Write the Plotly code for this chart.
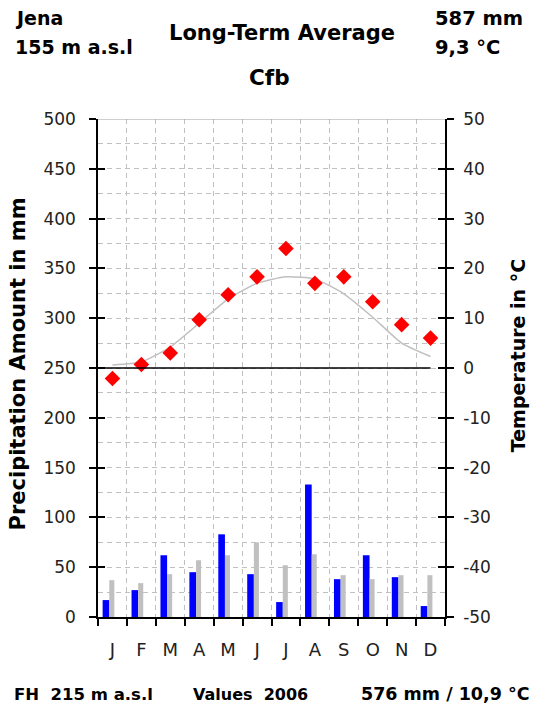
import plotly.graph_objects as go

months = ['J', 'F', 'M', 'A', 'M', 'J', 'J', 'A', 'S', 'O', 'N', 'D']
month_idx = list(range(12))
precip_2006 = [17, 27, 62, 45, 83, 43, 15, 133, 38, 62, 40, 11]
precip_avg = [37, 34, 43, 57, 62, 75, 52, 63, 42, 38, 42, 42]
temp_2006 = [-2.1, 0.7, 3.0, 9.7, 14.7, 18.3, 24.0, 17.0, 18.3, 13.3, 8.7, 6.0]
temp_avg = [0.6, 1.2, 4.2, 9.0, 13.9, 17.0, 18.3, 17.9, 14.9, 10.2, 5.0, 2.3]
precip_ticks = list(range(0, 501, 50))
temp_ticks = list(range(-50, 51, 10))
temp_ticktext = [str(t) for t in temp_ticks]

W, H = 539, 715
L, R, T, B = 98.3, 445.5, 119.0, 617.5
FONT = "DejaVu Sans"
GRID = "#c0c0c0"


def px(x):
    return (x - L) / (R - L)


def py(y):
    return (B - y) / (B - T)


fig = go.Figure()
fig.add_trace(go.Bar(x=month_idx, y=precip_2006, marker=dict(color="#0000ff", line=dict(width=0)),
                     offset=-0.34, width=0.23, xaxis="x", yaxis="y"))
fig.add_trace(go.Bar(x=month_idx, y=precip_avg, marker=dict(color="#c0c0c0", line=dict(width=0)),
                     offset=-0.11, width=0.175, xaxis="x", yaxis="y"))
fig.add_trace(go.Scatter(x=month_idx, y=temp_avg, mode="lines",
                         line=dict(color="#c0c0c0", width=1.5, shape="spline", smoothing=0.5),
                         xaxis="x", yaxis="y2"))
fig.add_trace(go.Scatter(x=month_idx, y=temp_2006, mode="markers",
                         marker=dict(symbol="diamond", size=12, color="#ff0000", line=dict(width=0)),
                         xaxis="x", yaxis="y2"))

tickfont = dict(family=FONT, size=17, color="#222")

fig.update_layout(
    width=W, height=H, autosize=False,
    margin=dict(l=L, r=W - R, t=T, b=H - B, pad=0),
    paper_bgcolor="white", plot_bgcolor="white",
    showlegend=False, barmode="overlay",
    xaxis=dict(range=[-0.5, 11.5], tickmode="array", tickvals=month_idx, ticktext=months,
               ticks="", showgrid=False, zeroline=False, showline=True, linecolor="black", linewidth=1.5,
               tickfont=dict(family=FONT, size=18, color="#222"), ticklabelstandoff=16,
               minor=dict(tickmode="array", tickvals=[i - 0.5 for i in range(13)], ticks="outside",
                          ticklen=7, tickcolor="black", tickwidth=1.5,
                          showgrid=True, gridcolor=GRID, griddash="5px,4px", gridwidth=1),
               fixedrange=True),
    yaxis=dict(range=[0, 500], tickmode="array", tickvals=precip_ticks, ticks="outside", ticklen=7,
               tickwidth=1.5, tickcolor="black", showline=True, linecolor="black", linewidth=1.5,
               showgrid=True, gridcolor=GRID, griddash="5px,4px", gridwidth=1, zeroline=False,
               tickfont=tickfont, ticklabelstandoff=10,
               minor=dict(dtick=25, tick0=0, showgrid=True, gridcolor=GRID, griddash="5px,4px", ticks=""),
               fixedrange=True),
    yaxis2=dict(range=[-50, 50], overlaying="y", side="right", anchor="x", tickmode="array",
                tickvals=temp_ticks, ticktext=temp_ticktext, ticks="outside", ticklen=7, tickwidth=1.5,
                tickcolor="black",
                showline=True, linecolor="black", linewidth=1.5, showgrid=False, zeroline=False,
                tickfont=tickfont, ticklabelstandoff=6, fixedrange=True),
    yaxis3=dict(range=[0, 500], overlaying="y", side="left", anchor="x", tickmode="array",
                tickvals=precip_ticks, ticks="inside", ticklen=7, tickwidth=1.5, tickcolor="black",
                showticklabels=False, showgrid=False, zeroline=False, showline=False, fixedrange=True),
    yaxis4=dict(range=[-50, 50], overlaying="y", side="right", anchor="x", tickmode="array",
                tickvals=temp_ticks, ticks="inside", ticklen=7, tickwidth=1.5, tickcolor="black",
                showticklabels=False, showgrid=False, zeroline=False, showline=False, fixedrange=True),
)

# invisible traces so the crossing-tick axes are drawn
fig.add_trace(go.Scatter(x=[None], y=[None], xaxis="x", yaxis="y3", showlegend=False, hoverinfo="skip"))
fig.add_trace(go.Scatter(x=[None], y=[None], xaxis="x", yaxis="y4", showlegend=False, hoverinfo="skip"))

# top border (solid gray) and 0 degC line
fig.add_shape(type="line", xref="x domain", yref="y", x0=0, x1=1, y0=500, y1=500,
              line=dict(color="#a0a0a0", width=1))
fig.add_shape(type="line", xref="x", yref="y2", x0=-0.5, x1=11, y0=0, y1=0,
              line=dict(color="black", width=1.5))


def ann(text, x, y, xanchor="left", size=19, angle=0, bold=True):
    fig.add_annotation(text=("<b>%s</b>" % text) if bold else text, xref="paper", yref="paper",
                       x=px(x), y=py(y), xanchor=xanchor, yanchor="middle", showarrow=False,
                       textangle=angle, font=dict(family=FONT, size=size, color="black"))


ann("Jena", 13, 18)
ann("155 m a.s.l", 13, 47)
ann("Long-Term Average", 282, 33, xanchor="center", size=21)
ann("Cfb", 270, 77, xanchor="center", size=21.5)
ann("587 mm", 433, 18, size=19.5)
ann("9,3 °C", 433, 47, size=19.5)
ann("Precipitation Amount in mm", 18, 364, xanchor="center", angle=-90, size=21)
ann("Temperature in °C", 518, 356, xanchor="center", angle=-90)
ann("FH  215 m a.s.l", 12, 695, size=16.5)
ann("Values  2006", 191, 695, size=16)
ann("576 mm / 10,9 °C", 533, 695, xanchor="right", size=17.5)

fig.write_html("out.html", post_script="document.body.style.margin='0';",
               config={"displayModeBar": False})
